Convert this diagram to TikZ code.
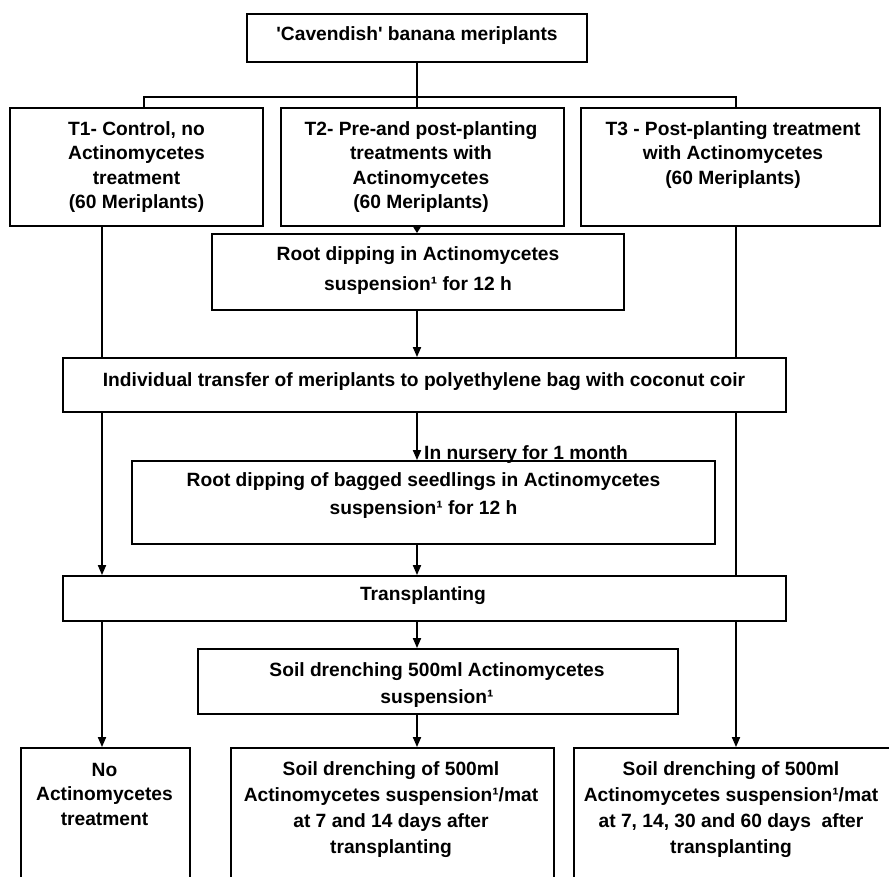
\documentclass[tikz,border=0pt]{standalone}
\usepackage{fontspec}
\setmainfont{Liberation Sans}[Ligatures=TeXOff]
\usetikzlibrary{arrows.meta,backgrounds}
\begin{document}
\begin{tikzpicture}[x=1pt,y=-1pt,
  box/.style={draw,line width=1.8pt,fill=white,inner sep=0pt},
  txt/.style={align=center,inner sep=0pt,font=\fontsize{19.2}{24.5}\selectfont\bfseries},
  arr/.style={line width=1.8pt,-{Triangle[length=10pt,width=8pt]}},
  ln/.style={line width=1.8pt}]
\useasboundingbox (0,0) rectangle (889,877);
\clip (0,0) rectangle (889,877);
% boxes
\node[box,minimum width=340pt,minimum height=48pt] (top) at (417,38) {};
\node[box,minimum width=253pt,minimum height=118pt] (t1) at (136.5,167) {};
\node[box,minimum width=283pt,minimum height=118pt] (t2) at (422.5,167) {};
\node[box,minimum width=299pt,minimum height=118pt] (t3) at (730.5,167) {};
\node[box,minimum width=412pt,minimum height=76pt] (root) at (418,272) {};
\node[box,minimum width=723pt,minimum height=54pt] (indiv) at (424.5,385) {};
\node[box,minimum width=583pt,minimum height=83pt] (bag) at (423.5,502.5) {};
\node[box,minimum width=723pt,minimum height=45pt] (trans) at (424.5,598.5) {};
\node[box,minimum width=480pt,minimum height=65pt] (soil) at (438,681.5) {};
\node[box,minimum width=169pt,minimum height=152pt] (nob) at (105.5,824) {};
\node[box,minimum width=323pt,minimum height=152pt] (midb) at (392.5,824) {};
\node[box,minimum width=319pt,minimum height=152pt] (rgtb) at (733.5,824) {};
% texts
\node[txt] (ttop) at (417,36) {'Cavendish' banana meriplants};
\node[txt] (tt1) at (136.5,167) {T1- Control, no\\Actinomycetes\\treatment\\(60 Meriplants)};
\node[txt] (tt2) at (421,167) {T2- Pre-and post-planting\\treatments with\\Actinomycetes\\(60 Meriplants)};
\node[txt] (tt3) at (733,155) {T3 - Post-planting treatment\\with Actinomycetes\\(60 Meriplants)};
\node[txt,font=\fontsize{19.2}{30}\selectfont\bfseries] (troot) at (418,271) {Root dipping in Actinomycetes\\suspension¹ for 12 h};
\node[txt] (tindiv) at (424,382) {Individual transfer of meriplants to polyethylene bag with coconut coir};
\node[txt,font=\fontsize{19.2}{28}\selectfont\bfseries] (tbag) at (423.5,496) {Root dipping of bagged seedlings in Actinomycetes\\suspension¹ for 12 h};
\node[txt] (ttrans) at (423,596) {Transplanting};
\node[txt,font=\fontsize{19.2}{27}\selectfont\bfseries] (tsoil) at (437,685) {Soil drenching 500ml Actinomycetes\\suspension¹};
\node[txt] (tnob) at (104.5,794) {No\\Actinomycetes\\treatment};
\node[txt,font=\fontsize{19.2}{26}\selectfont\bfseries] (tmid) at (391,810) {Soil drenching of 500ml\\Actinomycetes suspension¹/mat\\at 7 and 14 days after\\transplanting};
\node[txt,font=\fontsize{19.2}{26}\selectfont\bfseries] (trgt) at (731,810) {Soil drenching of 500ml\\Actinomycetes suspension¹/mat\\at 7, 14, 30 and 60 days\ \ after\\transplanting};
\node[txt,anchor=base west] (tnurs) at (424,459) {In nursery for 1 month};
% coordinates
\coordinate (sp) at (417,0);
\coordinate (b1) at (144,97);
\coordinate (b3) at (736,97);
\coordinate (c1) at (102,0);
% connectors
\begin{scope}[on background layer]
\draw[ln] (top.south -| sp) -- (sp |- b1);
\draw[ln] (b1 |- t1.north) -- (b1) -- (b3) -- (b3 |- t3.north);
\draw[ln] (sp |- b1) -- (sp |- t2.north);
\draw[line width=1.8pt,-{Triangle[length=6pt,width=7pt]}] (t2.south -| sp) -- (root.north -| sp);
\draw[arr] (root.south -| sp) -- (indiv.north -| sp);
\draw[arr] (indiv.south -| sp) -- (bag.north -| sp);
\draw[arr] (bag.south -| sp) -- (trans.north -| sp);
\draw[arr] (trans.south -| sp) -- (soil.north -| sp);
\draw[arr] (soil.south -| sp) -- (midb.north -| sp);
\draw[arr] (t1.south -| c1) -- (trans.north -| c1);
\draw[arr] (trans.south -| c1) -- (nob.north -| c1);
\draw[arr] (t3.south -| b3) -- (rgtb.north -| b3);
\end{scope}
\end{tikzpicture}
\end{document}
